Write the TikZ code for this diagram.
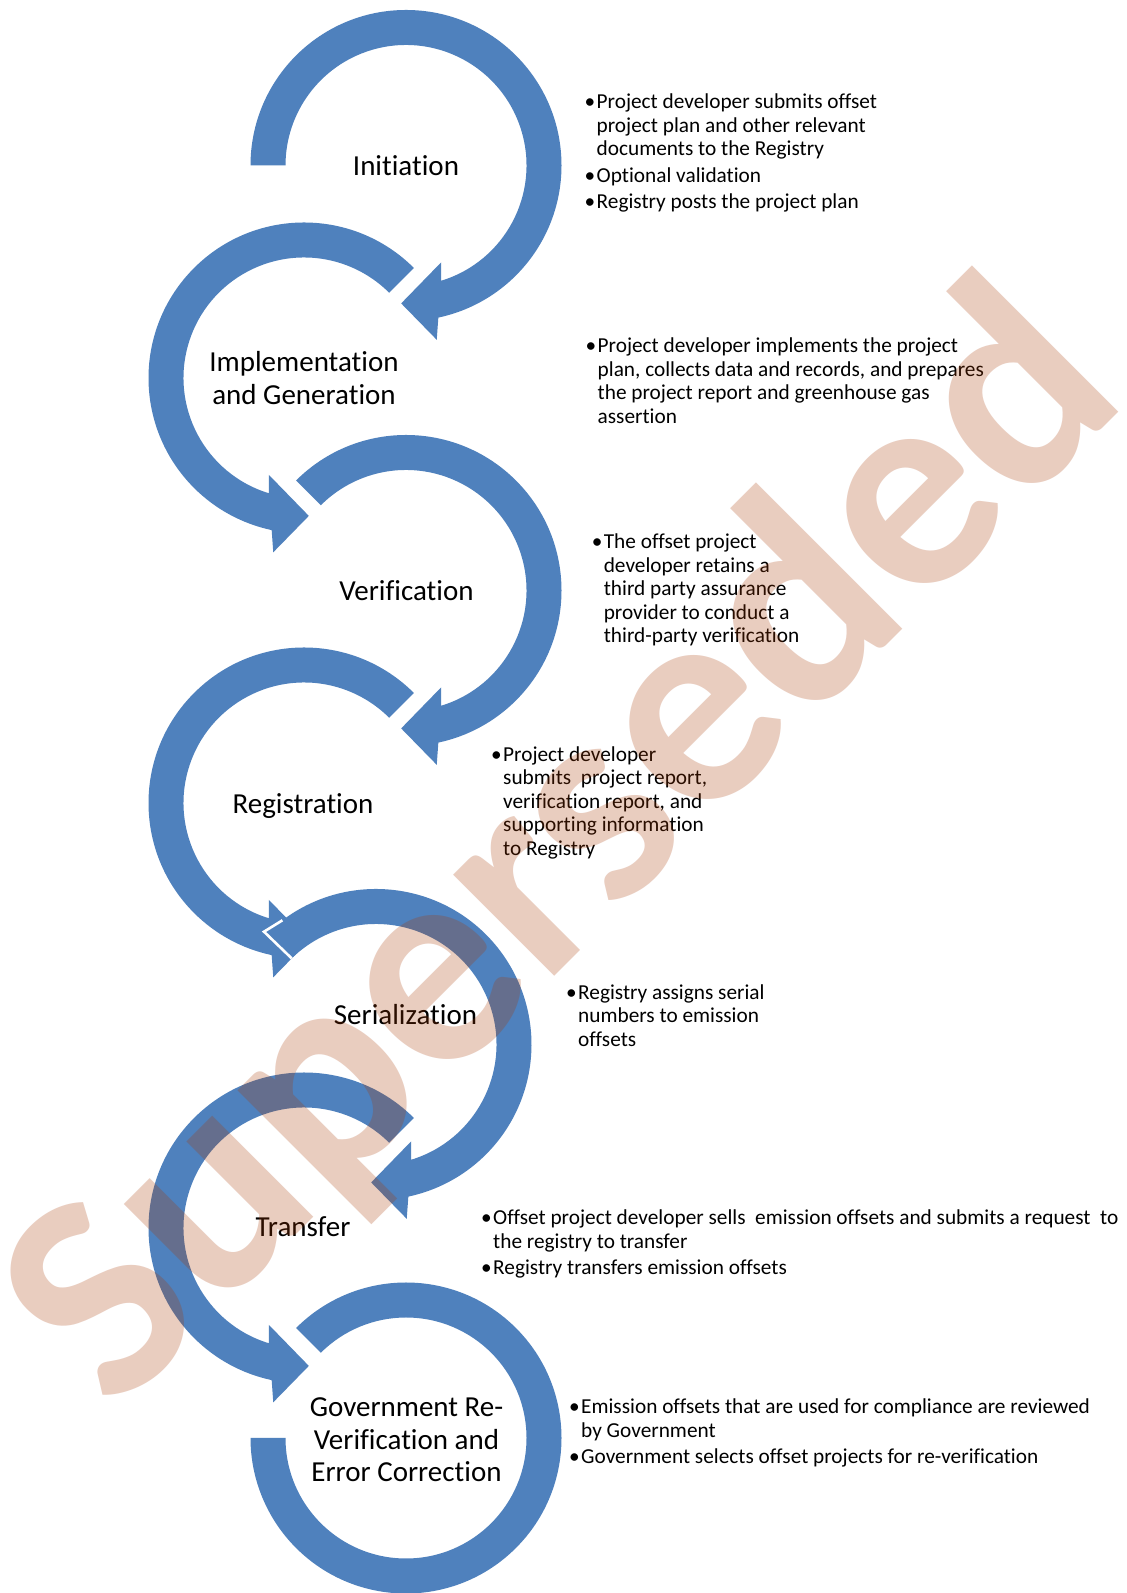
\documentclass[tikz,border=0pt]{standalone}
\usepackage{fontspec}
\setmainfont{Carlito}[Ligatures=NoCommon]
\usetikzlibrary{calc}
\definecolor{arrowblue}{RGB}{79,129,189}
\definecolor{wmc}{RGB}{168,56,0}
\newcommand{\bulfont}{\fontsize{21.3}{23.4}\selectfont}
\newcommand{\labfont}{\fontsize{29}{32.5}\selectfont}
\newcommand{\blines}[1]{\begin{tabular}[t]{@{}l@{}}#1\end{tabular}}
\newcommand{\clines}[1]{\begin{tabular}[t]{@{}c@{}}#1\end{tabular}}
% clockwise circular arrow, #1 centre, #2 start angle
\newcommand{\cwarrow}[2]{%
  \fill[band,shift={#1}] (#2:155.5pt) arc[start angle=#2, end angle=-78, radius=155.5pt]
    -- (-80:177pt) -- (-92:138pt) -- (-70:103pt) -- (-73:120.5pt)
    arc[start angle=-73, end angle=#2, radius=120.5pt] -- cycle;}
% counter-clockwise circular arrow, #1 centre, #2 start angle
\newcommand{\ccwarrow}[2]{%
  \fill[band,shift={#1}] (#2:155.5pt) arc[start angle=#2, end angle=258, radius=155.5pt]
    -- (260:177pt) -- (272:138pt) -- (250:103pt) -- (253:120.5pt)
    arc[start angle=253, end angle=#2, radius=120.5pt] -- cycle;}
\tikzset{
  band/.style={fill=arrowblue},
  lab/.style={anchor=base, inner sep=0pt, font=\labfont},
  btxt/.style={anchor=base west, inner sep=0pt, font=\bulfont},
  bdot/.style={anchor=base east, inner sep=0pt, font=\bulfont},
  wm/.style={rotate=45, inner sep=0pt, text=wmc, text opacity=0.25,
    font=\bfseries\fontsize{295}{295}\selectfont}
}
\begin{document}
\begin{tikzpicture}[x=1pt,y=1pt]
\useasboundingbox (0,0) rectangle (1127,1593);
\fill[white] (0,0) rectangle (1127,1593);

% circular arrows
\cwarrow{(406,1427.5)}{180}
\ccwarrow{(304,1215)}{45}
\cwarrow{(406,1002.5)}{135}
\ccwarrow{(304,790)}{45}
% serialization (overlapping the registration head, white-edged start)
\begin{scope}[shift={(376,548.5)}]
  \fill[band] (127:155.5pt) arc[start angle=127, end angle=-78, radius=155.5pt]
    -- (-80:177pt) -- (-92:138pt) -- (-70:103pt) -- (-73:120.5pt)
    arc[start angle=-73, end angle=134.4, radius=120.5pt]
    -- (-112,112.8) -- cycle;
  \draw[white, line width=2.6pt, line join=miter] (134.4:120.5pt) -- (-112,112.8) -- (127:155.5pt);
\end{scope}
\ccwarrow{(304,365)}{45}
% last ring, no head
\fill[band,shift={(406,155)}] (135:155.5pt) arc[start angle=135, end angle=-180, radius=155.5pt]
  -- (-180:120.5pt) arc[start angle=-180, end angle=135, radius=120.5pt] -- cycle;

% stage labels
\node[lab] (init)  at (406,1417)   {Initiation};
\node[lab] (impl)  at (304,1221.3) {\clines{Implementation\\and Generation}};
\node[lab] (verif) at (406.5,992)  {Verification};
\node[lab] (regis) at (303,779)    {Registration};
\node[lab] (seri)  at (405.5,568)  {Serialization};
\node[lab] (trans) at (303,356)    {Transfer};
\node[lab] (gov)   at (406.5,176.3) {\clines{Government Re-\\Verification and\\Error Correction}};

% bullet texts
\node[bdot] (d1a) at (595.5,1484) {•};
\node[btxt] (t1a) at (596.5,1484) {\blines{Project developer submits offset\\project plan and other relevant\\documents to the Registry}};
\node[bdot] (d1b) at (595.5,1410.8) {•};
\node[btxt] (t1b) at (596.5,1410.8) {\blines{Optional validation}};
\node[bdot] (d1c) at (595.5,1384.4) {•};
\node[btxt] (t1c) at (596.5,1384.4) {\blines{Registry posts the project plan}};

\node[bdot] (d2) at (596.5,1240) {•};
\node[btxt] (t2) at (597.5,1240) {\blines{Project developer implements the project\\plan, collects data and records, and prepares\\the project report and greenhouse gas\\assertion}};

\node[bdot] (d3) at (602.6,1044) {•};
\node[btxt] (t3) at (603.6,1044) {\blines{The offset project\\developer retains a\\third party assurance\\provider to conduct a\\third-party verification}};

\node[bdot] (d4) at (502,831.5) {•};
\node[btxt] (t4) at (503,831.5) {\blines{Project developer\\submits\ \ project report,\\verification report, and\\supporting information\\to Registry}};

\node[bdot] (d5) at (577,593.5) {•};
\node[btxt] (t5) at (578,593.5) {\blines{Registry assigns serial\\numbers to emission\\offsets}};

\node[bdot] (d6a) at (492,368) {•};
\node[btxt] (t6a) at (493,368) {\blines{Offset project developer sells\ \ emission offsets and submits a request\ \ to\\the registry to transfer}};
\node[bdot] (d6b) at (492,318.2) {•};
\node[btxt] (t6b) at (493,318.2) {\blines{Registry transfers emission offsets}};

\node[bdot] (d7a) at (580,179) {•};
\node[btxt] (t7a) at (581,179) {\blines{Emission offsets that are used for compliance are reviewed\\by Government}};
\node[bdot] (d7b) at (580,129.2) {•};
\node[btxt] (t7b) at (581,129.2) {\blines{Government selects offset projects for re-verification}};

% watermark
\node[wm] (mark) at (567,742.5) {Superseded};
\end{tikzpicture}
\end{document}
